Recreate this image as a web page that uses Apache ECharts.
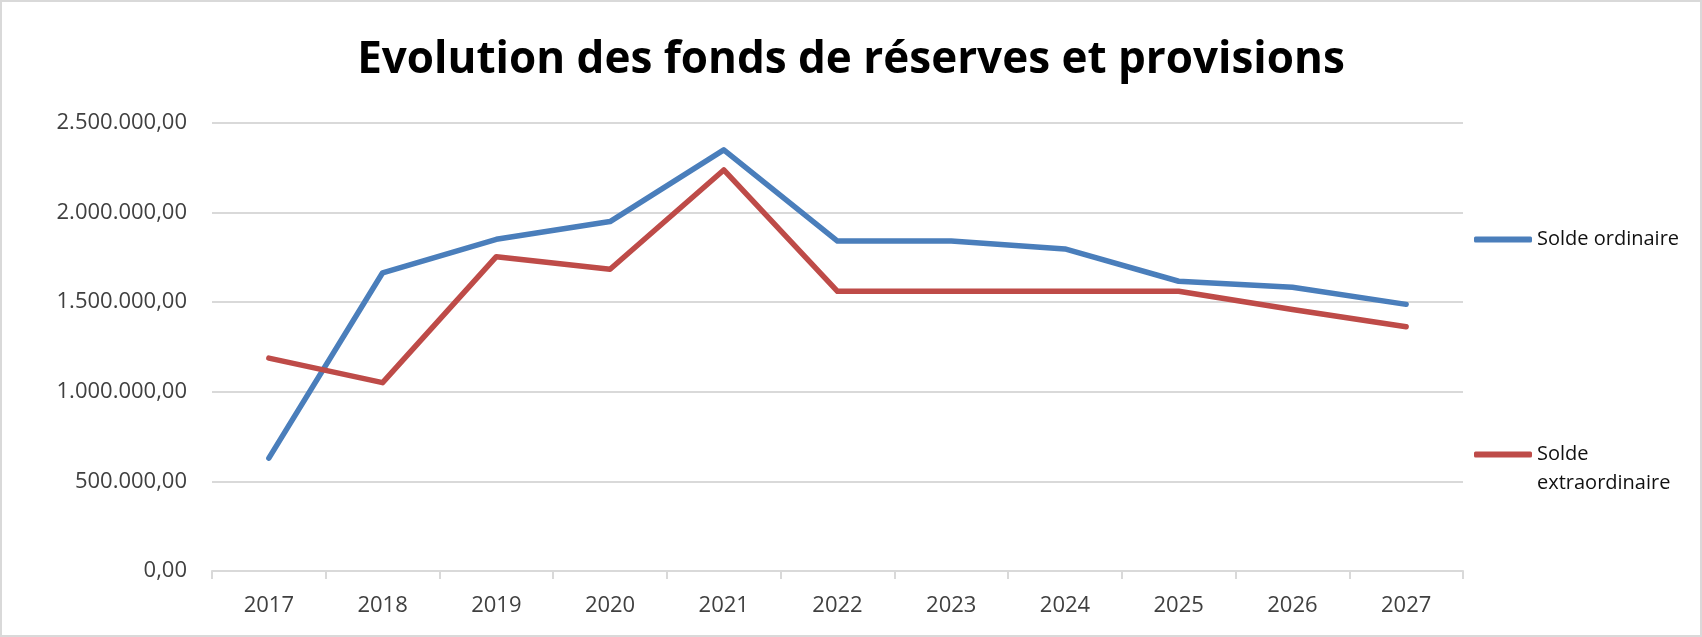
<!DOCTYPE html>
<html>
<head>
<meta charset="utf-8">
<title>Evolution des fonds de réserves et provisions</title>
<script src="https://cdn.jsdelivr.net/npm/echarts@6/dist/echarts.min.js"></script>
<style>
  html, body { margin: 0; padding: 0; background: #fff; }
  #chart { width: 1702px; height: 637px; box-sizing: border-box; border: 2px solid #d9d9d9; }
</style>
</head>
<body>
<div id="chart"></div>
<script>
// années (axe des x)
const years = ['2017', '2018', '2019', '2020', '2021', '2022', '2023', '2024', '2025', '2026', '2027']
// Solde ordinaire
const soldeOrdinaire = [630000, 1664000, 1851000, 1950000, 2350000, 1841000, 1841000, 1797000, 1617000, 1583000, 1488000]
// Solde extraordinaire
const soldeExtraordinaire = [1188000, 1051000, 1754000, 1684000, 2238000, 1561000, 1561000, 1561000, 1561000, 1459000, 1363000]

const seriesNames = ['Solde ordinaire', 'Solde extraordinaire']
const colors = ['#4a7ebb', '#be4b48']

// format belge : 2.500.000,00
function formatMontant(v) {
  const parts = Number(v).toFixed(2).split('.')
  return parts[0].replace(/\B(?=(\d{3})+(?!\d))/g, '.') + ',' + parts[1]
}

const chart = echarts.init(document.getElementById('chart'))

const font = '"Open Sans", "Noto Sans", sans-serif'

// réglages communs des deux légendes
const legendBase = {
  orient: 'vertical',
  left: 1467,
  icon: 'roundRect',
  itemWidth: 58,
  itemHeight: 6,
  textStyle: { fontFamily: font, fontSize: 20, color: '#111', lineHeight: 29 }
}

chart.setOption({
  animation: false,
  color: colors,
  title: {
    text: 'Evolution des fonds de réserves et provisions',
    left: 'center',
    top: 31,
    textStyle: {
      fontFamily: font,
      fontSize: 44,
      fontWeight: 'bold',
      color: '#000'
    }
  },
  grid: {
    left: 210,
    right: 237,
    top: 121,
    bottom: 64
  },
  // deux légendes pour placer chaque entrée comme dans l'original
  legend: [Object.assign({}, legendBase, {
    data: [seriesNames[0]],
    top: 218
  }), Object.assign({}, legendBase, {
    data: [seriesNames[1]],
    top: 404,
    // ligne vide en tête : l'icône reste alignée sur "Solde"
    formatter: function (name) { return '\n' + name.replace(' ', '\n') }
  })],
  xAxis: {
    type: 'category',
    data: years,
    boundaryGap: true,
    axisLine: { lineStyle: { color: '#d9d9d9', width: 2 } },
    axisTick: { show: true, length: 8, lineStyle: { color: '#d9d9d9', width: 2 } },
    axisLabel: { fontFamily: font, fontSize: 22, color: '#404040', margin: 24 }
  },
  yAxis: {
    type: 'value',
    min: 0,
    max: 2500000,
    interval: 500000,
    axisLine: { show: false },
    axisTick: { show: false },
    splitLine: { lineStyle: { color: '#d9d9d9', width: 2 } },
    axisLabel: {
      fontFamily: font,
      fontSize: 22,
      color: '#404040',
      margin: 25,
      formatter: formatMontant
    }
  },
  series: [{
    name: seriesNames[0],
    type: 'line',
    data: soldeOrdinaire,
    symbol: 'none',
    lineStyle: { width: 5.5, color: colors[0], cap: 'round', join: 'round' }
  }, {
    name: seriesNames[1],
    type: 'line',
    data: soldeExtraordinaire,
    symbol: 'none',
    lineStyle: { width: 5.5, color: colors[1], cap: 'round', join: 'round' }
  }]
})
</script>
</body>
</html>
